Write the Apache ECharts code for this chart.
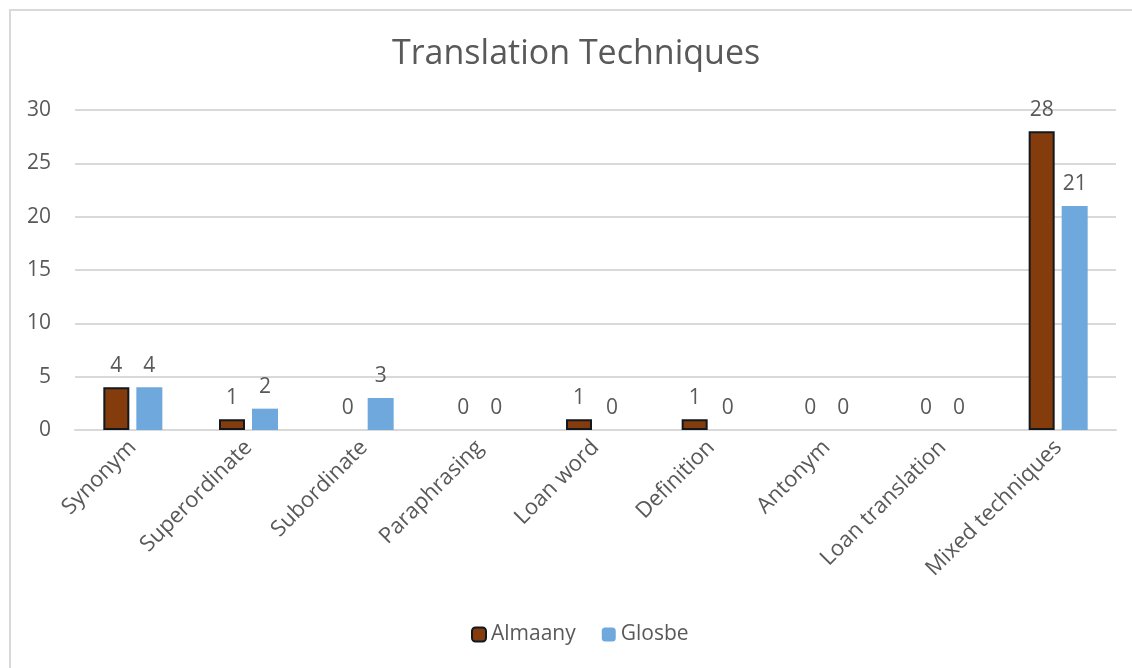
<!DOCTYPE html>
<html>
<head>
<meta charset="utf-8">
<script src="https://cdn.jsdelivr.net/npm/echarts@6/dist/echarts.min.js"></script>
<style>
html,body{margin:0;padding:0;background:#fff;}
#chart{width:1132px;height:668px;}
</style>
</head>
<body>
<div id="chart"></div>
<script>
const categories = ["Synonym","Superordinate","Subordinate","Paraphrasing","Loan word","Definition","Antonym","Loan translation","Mixed techniques"];
const almaany = [4,1,0,0,1,1,0,0,28];
const glosbe = [4,2,3,0,0,0,0,0,21];
const yTicks = {min:0,max:30,interval:5};

const chart = echarts.init(document.getElementById('chart'));
const textColor = '#595959';
const font = '"Open Sans", Roboto, sans-serif';
chart.setOption({
  animation:false,
  backgroundColor:'#fff',
  textStyle:{fontFamily:font},
  graphic:[{type:'rect',shape:{x:10,y:10,width:1140,height:700},style:{fill:'none',stroke:'#d9d9d9',lineWidth:2},silent:true}],
  title:{text:'Translation Techniques',left:387,top:32,textStyle:{color:textColor,fontSize:34,fontWeight:'normal',fontFamily:font}},
  legend:{bottom:18,left:466,itemWidth:14,itemHeight:14,itemGap:26,textStyle:{color:textColor,fontSize:21,fontFamily:font},data:['Almaany','Glosbe']},
  grid:{left:75,right:16,top:110,bottom:238,containLabel:false},
  xAxis:{type:'category',data:categories,axisTick:{show:false},axisLine:{lineStyle:{color:'#d9d9d9',width:2}},
    axisLabel:{rotate:45,color:textColor,fontSize:22,interval:0,margin:14,fontFamily:font}},
  yAxis:{type:'value',min:yTicks.min,max:yTicks.max,interval:yTicks.interval,axisLine:{show:false},axisTick:{show:false},
    splitLine:{lineStyle:{color:'#d9d9d9',width:2}},axisLabel:{color:textColor,fontSize:21,margin:24,fontFamily:font}},
  series:[
    {name:'Almaany',type:'bar',
      data:almaany.map(v => v === 0 ? {value:v,itemStyle:{borderWidth:0}} : v),
      barWidth:26,barGap:'27%',
      itemStyle:{color:'#843c0c',borderColor:'#111820',borderWidth:2},
      label:{show:true,position:'top',color:textColor,fontSize:21,distance:11,fontFamily:font}},
    {name:'Glosbe',type:'bar',data:glosbe,barWidth:26,
      itemStyle:{color:'#6fa8dc'},
      label:{show:true,position:'top',color:textColor,fontSize:21,distance:11,fontFamily:font}}
  ]
});
</script>
</body>
</html>
